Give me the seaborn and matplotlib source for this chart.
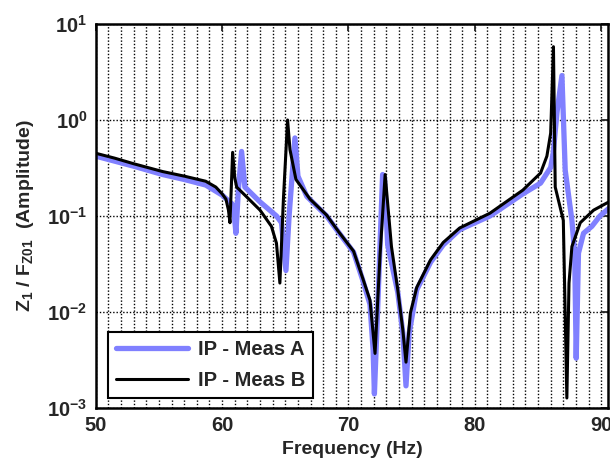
import numpy as np
import pandas as pd
import matplotlib
import matplotlib.pyplot as plt
import seaborn as sns
from matplotlib.ticker import MultipleLocator, FixedLocator, FuncFormatter, NullLocator

matplotlib.use('Agg')

freq_a = [50.0, 53.0, 55.3, 57.0, 58.7, 60.0, 60.6, 60.9, 61.09, 61.3, 61.54, 61.8,
          63.0, 64.3, 64.7, 65.05, 65.3, 65.76, 66.0, 66.7, 68.27, 69.2, 70.4, 71.1,
          71.7, 71.95, 72.05, 72.3, 72.7, 72.85, 73.1, 73.9, 74.3, 74.55, 74.8, 75.4,
          76.5, 77.5, 78.8, 81.2, 83.8, 85.2, 86.0, 86.2, 86.5, 86.89, 87.15, 87.68,
          87.9, 88.02, 88.2, 88.6, 89.26, 89.9, 90.6]
amp_a = [0.42, 0.33, 0.27, 0.24, 0.21, 0.165, 0.14, 0.13, 0.066, 0.2, 0.47, 0.2,
         0.14, 0.10, 0.085, 0.027, 0.1, 0.65, 0.26, 0.16, 0.10, 0.068, 0.042, 0.022,
         0.012, 0.004, 0.0014, 0.01, 0.27, 0.25, 0.05, 0.016, 0.006, 0.0017, 0.006, 0.017,
         0.033, 0.05, 0.072, 0.10, 0.17, 0.22, 0.32, 0.45, 1.2, 2.9, 0.3, 0.09,
         0.04, 0.0033, 0.041, 0.066, 0.078, 0.10, 0.12]

freq_b = [50.0, 51.5, 53.0, 55.3, 57.0, 58.7, 59.5, 60.0, 60.3, 60.5, 60.62, 60.83,
          61.0, 61.15, 61.9, 63.0, 63.9, 64.3, 64.57, 64.85, 65.18, 65.37, 65.84, 66.95,
          68.27, 69.2, 70.4, 71.1, 71.7, 72.1, 72.5, 72.9, 73.4, 73.9, 74.3, 74.55,
          74.9, 75.4, 76.5, 77.5, 78.8, 81.2, 83.8, 85.2, 85.7, 86.0, 86.22, 86.36,
          87.0, 87.28, 87.45, 87.68, 88.34, 89.4, 90.6]
amp_b = [0.45, 0.40, 0.35, 0.29, 0.26, 0.23, 0.20, 0.17, 0.15, 0.115, 0.085, 0.46,
         0.25, 0.20, 0.16, 0.115, 0.078, 0.052, 0.020, 0.15, 1.0, 0.49, 0.24, 0.15,
         0.102, 0.069, 0.043, 0.023, 0.0133, 0.0037, 0.04, 0.27, 0.048, 0.017, 0.0065, 0.003,
         0.0098, 0.018, 0.035, 0.053, 0.075, 0.107, 0.186, 0.28, 0.42, 0.73, 5.8, 0.2,
         0.09, 0.00127, 0.02, 0.048, 0.085, 0.115, 0.14]

series_labels = ['IP - Meas A', 'IP - Meas B']
series_colors = ['#8080ff', 'black']
x_ticks = [50, 60, 70, 80, 90]
y_ticks = [1e-3, 1e-2, 1e-1, 1e0, 1e1]

sns.set_style('white')
plt.rcParams['font.family'] = ['Liberation Sans', 'DejaVu Sans']
plt.rcParams['font.weight'] = 'bold'
plt.rcParams['mathtext.fontset'] = 'custom'
plt.rcParams['mathtext.rm'] = 'Liberation Sans:bold'
plt.rcParams['mathtext.bf'] = 'Liberation Sans:bold'
plt.rcParams['mathtext.it'] = 'Liberation Sans:bold'
plt.rcParams['mathtext.default'] = 'bf'

df_a = pd.DataFrame({'freq': freq_a, 'amp': amp_a})
df_b = pd.DataFrame({'freq': freq_b, 'amp': amp_b})

fig = plt.figure(figsize=(6.1, 4.7), dpi=100)
ax = fig.add_axes([0.157, 0.132, 0.84, 0.817])

sns.lineplot(data=df_a, x='freq', y='amp', color=series_colors[0], linewidth=3.8,
             label=series_labels[0], estimator=None, ax=ax)
sns.lineplot(data=df_b, x='freq', y='amp', color=series_colors[1], linewidth=2.2,
             label=series_labels[1], estimator=None, ax=ax)

ax.set_yscale('log')
ax.set_xlim(50, 90.55)
ax.set_ylim(1e-3, 1e1)

ax.xaxis.set_major_locator(FixedLocator(x_ticks))
ax.xaxis.set_minor_locator(MultipleLocator(1))
ax.yaxis.set_major_locator(FixedLocator(y_ticks))
ax.yaxis.set_minor_locator(NullLocator())
ax.yaxis.set_major_formatter(FuncFormatter(lambda v, p: r'$10^{%d}$' % round(np.log10(v))))

dots = (0, (1, 1.4))
ax.grid(which='major', axis='both', color='black', linestyle=dots, linewidth=1.0)
ax.grid(which='minor', axis='x', color='black', linestyle=dots, linewidth=1.0)

ax.tick_params(which='major', direction='in', top=True, right=True, length=5, width=1.3,
               labelsize=14.5, pad=6)
ax.tick_params(which='minor', length=0)
for s in ax.spines.values():
    s.set_color('black')
    s.set_linewidth(1.8)

ax.set_xlabel('Frequency (Hz)', fontsize=14, fontweight='bold', labelpad=4)
ax.set_ylabel(r'$Z_1$ / $F_{Z01}$  (Amplitude)', fontsize=14, fontweight='bold', labelpad=8)

leg = ax.legend(loc='lower left', bbox_to_anchor=(0.023, 0.026), borderaxespad=0,
                frameon=True, fancybox=False, edgecolor='black', framealpha=1,
                handlelength=3.6, handletextpad=0.5, labelspacing=0.6,
                borderpad=0.4, prop={'weight': 'bold', 'size': 14.5})
leg.get_frame().set_linewidth(1.5)

fig.savefig('out.png', dpi=100)
